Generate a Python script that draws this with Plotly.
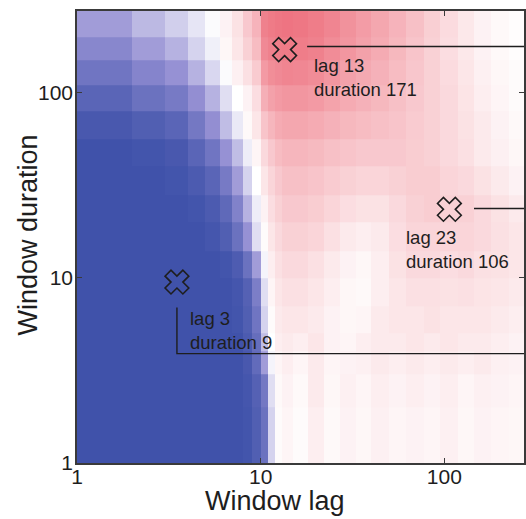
import math
import plotly.graph_objects as go

# Window lag bin edges (integer lags, coarser bins beyond 13)
lag_edges = [1, 2, 3, 4, 5, 6, 7, 8, 9, 10, 11, 12, 13, 15, 18, 22, 27, 33, 40,
             50, 62, 77, 95, 118, 145, 180, 225, 280]
# Window duration bin edges
dur_edges = [1, 2, 3, 4, 5, 7, 10, 14, 20, 28, 40, 56, 80, 110, 150, 200, 280]

# Correlation values, one row per duration bin (bottom to top), one column per lag bin
corr = [
    [-1, -1, -1, -1, -1, -1, -1, -0.98, -0.9, -0.75, -0.2, 0.02, 0.05, 0.02, 0.08, 0.03, 0.06, 0.04, 0.07, 0.05, 0.06, 0.05, 0.07, 0.04, 0.06, 0.05, 0.04],
    [-1, -1, -1, -1, -1, -1, -1, -0.97, -0.88, -0.7, -0.15, 0.03, 0.06, 0.03, 0.1, 0.04, 0.07, 0.05, 0.08, 0.06, 0.08, 0.06, 0.08, 0.05, 0.07, 0.06, 0.05],
    [-1, -1, -1, -1, -1, -1, -1, -0.95, -0.8, -0.45, -0.05, 0.05, 0.08, 0.05, 0.1, 0.05, 0.06, 0.07, 0.1, 0.08, 0.1, 0.08, 0.1, 0.08, 0.1, 0.07, 0.06],
    [-1, -1, -1, -1, -1, -1, -1, -0.93, -0.78, -0.3, 0, 0.08, 0.1, 0.08, 0.12, 0.06, 0.05, 0.08, 0.1, 0.1, 0.12, 0.1, 0.12, 0.1, 0.1, 0.08, 0.06],
    [-1, -1, -1, -1, -1, -1, -0.98, -0.9, -0.72, -0.2, 0.02, 0.1, 0.12, 0.12, 0.1, 0.06, 0.04, 0.05, 0.1, 0.12, 0.12, 0.14, 0.12, 0.12, 0.12, 0.1, 0.08],
    [-1, -1, -1, -1, -1, -1, -0.97, -0.88, -0.65, -0.15, 0.05, 0.12, 0.15, 0.15, 0.12, 0.08, 0.04, 0.03, 0.08, 0.12, 0.15, 0.15, 0.14, 0.15, 0.13, 0.12, 0.1],
    [-1, -1, -1, -1, -1, -0.98, -0.92, -0.75, -0.45, -0.05, 0.08, 0.15, 0.18, 0.18, 0.15, 0.1, 0.06, 0.04, 0.08, 0.14, 0.18, 0.18, 0.16, 0.18, 0.15, 0.14, 0.12],
    [-1, -1, -1, -1, -0.97, -0.9, -0.75, -0.5, -0.15, 0.02, 0.12, 0.18, 0.22, 0.22, 0.2, 0.15, 0.1, 0.08, 0.1, 0.16, 0.2, 0.2, 0.2, 0.2, 0.18, 0.15, 0.12],
    [-1, -1, -1, -0.98, -0.93, -0.82, -0.62, -0.35, -0.08, 0.06, 0.16, 0.22, 0.26, 0.26, 0.24, 0.2, 0.16, 0.14, 0.14, 0.18, 0.22, 0.24, 0.22, 0.22, 0.18, 0.14, 0.1],
    [-1, -1, -0.98, -0.93, -0.85, -0.68, -0.45, -0.2, 0, 0.12, 0.2, 0.26, 0.3, 0.3, 0.28, 0.25, 0.22, 0.2, 0.2, 0.22, 0.24, 0.24, 0.2, 0.18, 0.14, 0.1, 0.06],
    [-1, -0.98, -0.95, -0.85, -0.72, -0.5, -0.3, -0.08, 0.05, 0.18, 0.26, 0.32, 0.35, 0.35, 0.33, 0.3, 0.28, 0.26, 0.26, 0.26, 0.24, 0.22, 0.18, 0.15, 0.1, 0.07, 0.04],
    [-0.95, -0.9, -0.85, -0.7, -0.52, -0.3, -0.1, 0.03, 0.12, 0.28, 0.35, 0.4, 0.42, 0.42, 0.4, 0.37, 0.34, 0.32, 0.3, 0.28, 0.25, 0.22, 0.18, 0.14, 0.1, 0.06, 0.03],
    [-0.85, -0.75, -0.68, -0.52, -0.35, -0.15, 0, 0.06, 0.16, 0.38, 0.45, 0.48, 0.5, 0.5, 0.48, 0.44, 0.4, 0.37, 0.34, 0.3, 0.26, 0.22, 0.18, 0.13, 0.08, 0.05, 0.02],
    [-0.72, -0.6, -0.5, -0.35, -0.18, -0.02, 0.07, 0.15, 0.25, 0.48, 0.54, 0.56, 0.58, 0.57, 0.55, 0.5, 0.45, 0.41, 0.37, 0.32, 0.27, 0.22, 0.17, 0.12, 0.07, 0.04, 0.02],
    [-0.58, -0.45, -0.35, -0.2, -0.07, 0.04, 0.12, 0.22, 0.32, 0.56, 0.6, 0.62, 0.63, 0.62, 0.6, 0.55, 0.5, 0.45, 0.4, 0.34, 0.28, 0.22, 0.16, 0.11, 0.06, 0.03, 0.01],
    [-0.45, -0.32, -0.22, -0.12, -0.02, 0.06, 0.14, 0.26, 0.36, 0.6, 0.63, 0.65, 0.66, 0.65, 0.62, 0.58, 0.52, 0.47, 0.42, 0.36, 0.3, 0.23, 0.17, 0.11, 0.06, 0.03, 0.01],
]

# Highlighted windows (lag, duration) and their labels
mark_lag = [3, 13, 106]
mark_dur = [9, 171, 23]
mark_text = ["lag 3<br>duration 9", "lag 13<br>duration 171", "lag 23<br>duration 106"]

tick_vals = [1, 10, 100]
tick_text = ["1", "10", "100"]

FONT = "Liberation Sans, Arial, Helvetica, sans-serif"
INK = "#1e1e1e"
AXIS = "#3a3a3a"

fig = go.Figure()

fig.add_trace(go.Heatmap(
    x=lag_edges, y=dur_edges, z=corr,
    zmin=-1, zmax=1,
    colorscale=[[0.0, "rgb(64,82,170)"], [0.25, "rgb(150,145,212)"],
                [0.5, "rgb(255,255,255)"], [1.0, "rgb(229,45,65)"]],
    showscale=False, hoverinfo="skip",
))

# marker sits in the middle of its integer window cell
mx = [v + 0.5 for v in mark_lag]
my = [v + 0.5 for v in mark_dur]

# leader lines running out to the right-hand edge
x_far = 400
line_paths = [
    ([mx[0], mx[0], x_far], [my[0] * 0.73, 3.9, 3.9]),
    ([17.9, x_far], [my[1] * 1.04, my[1] * 1.04]),
    ([145, x_far], [my[2] * 1.01, my[2] * 1.01]),
]
for xs, ys in line_paths:
    fig.add_trace(go.Scatter(x=xs, y=ys, mode="lines",
                             line=dict(color=INK, width=1.4),
                             hoverinfo="skip", showlegend=False))

fig.add_trace(go.Scatter(
    x=mx, y=my, mode="markers",
    marker=dict(symbol="x-open", size=21, color=INK, line=dict(color=INK, width=1.6)),
    hoverinfo="skip", showlegend=False,
))

# label offsets (pixels) relative to each marker
shifts = [(11, -24), (27, -3), (-45, -16)]
for lx, ly, txt, (sx, sy) in zip(mx, my, mark_text, shifts):
    fig.add_annotation(
        x=math.log10(lx), y=math.log10(ly), xref="x", yref="y",
        text=txt, showarrow=False, xanchor="left", yanchor="top", align="left",
        xshift=sx, yshift=sy, font=dict(family=FONT, size=18.5, color=INK),
    )

fig.add_annotation(x=0.443, y=-0.085, xref="paper", yref="paper", text="Window lag",
                   showarrow=False, xanchor="center", yanchor="middle",
                   font=dict(family=FONT, size=27, color=INK))
fig.add_annotation(x=-0.109, y=0.504, xref="paper", yref="paper", text="Window duration",
                   showarrow=False, xanchor="center", yanchor="middle", textangle=-90,
                   font=dict(family=FONT, size=27, color=INK))

axis_common = dict(
    type="log", tickvals=tick_vals, ticktext=tick_text,
    ticks="inside", ticklen=5, tickwidth=1.2, tickcolor=AXIS,
    showline=True, linecolor=AXIS, linewidth=1.6, mirror="allticks",
    showgrid=False, zeroline=False,
    tickfont=dict(family=FONT, size=21, color=INK),
)

fig.update_xaxes(range=[0, 2.4336], ticklabelstandoff=-6, **axis_common)
fig.update_yaxes(range=[0, 2.443], ticklabelstandoff=-2, **axis_common)

fig.update_layout(
    width=526, height=519,
    margin=dict(l=77, r=0, t=11, b=56),
    paper_bgcolor="white", plot_bgcolor="white",
    showlegend=False,
)

fig.write_html("out.html")
